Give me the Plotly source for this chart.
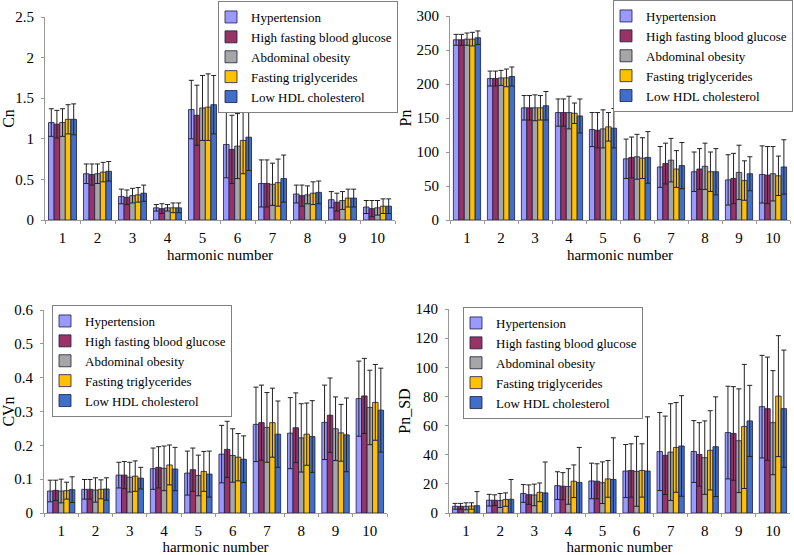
import plotly.graph_objects as go

harmonics = [str(i) for i in range(1, 11)]
groups = ["Hypertension", "High fasting blood glucose", "Abdominal obesity",
          "Fasting triglycerides", "Low HDL cholesterol"]
colors = ["#9999FF", "#993366", "#A6A6A6", "#FFC000", "#3F6FC8"]

# Cn (mean, sd) per group
cn_mean = [
    [1.20, 0.57, 0.29, 0.15, 1.36, 0.93, 0.45, 0.32, 0.25, 0.16],
    [1.18, 0.56, 0.28, 0.14, 1.29, 0.87, 0.45, 0.30, 0.22, 0.14],
    [1.20, 0.57, 0.30, 0.15, 1.38, 0.91, 0.44, 0.31, 0.24, 0.15],
    [1.24, 0.59, 0.31, 0.15, 1.39, 0.98, 0.46, 0.33, 0.27, 0.17],
    [1.24, 0.60, 0.33, 0.15, 1.42, 1.02, 0.51, 0.34, 0.27, 0.17],
]
cn_sd = [
    [0.17, 0.12, 0.09, 0.04, 0.36, 0.41, 0.29, 0.11, 0.10, 0.08],
    [0.17, 0.13, 0.09, 0.06, 0.37, 0.42, 0.29, 0.13, 0.11, 0.10],
    [0.17, 0.12, 0.09, 0.04, 0.40, 0.40, 0.26, 0.11, 0.11, 0.09],
    [0.18, 0.12, 0.09, 0.06, 0.41, 0.41, 0.29, 0.14, 0.11, 0.09],
    [0.19, 0.12, 0.10, 0.06, 0.36, 0.41, 0.29, 0.14, 0.11, 0.09],
]

# Pn
pn_mean = [
    [265, 208, 165, 158, 133, 90, 78, 71, 59, 67],
    [265, 208, 165, 158, 132, 92, 83, 75, 61, 66],
    [266, 209, 165, 158, 134, 93, 88, 79, 70, 68],
    [266, 209, 165, 157, 137, 91, 75, 71, 58, 65],
    [268, 211, 168, 153, 135, 92, 80, 71, 68, 78],
]
pn_sd = [
    [8, 11, 18, 20, 25, 29, 30, 29, 37, 42],
    [8, 11, 18, 20, 26, 30, 30, 30, 37, 42],
    [9, 11, 19, 24, 28, 33, 32, 34, 40, 40],
    [10, 13, 18, 15, 21, 30, 27, 29, 29, 29],
    [10, 14, 21, 25, 29, 38, 34, 34, 25, 40],
]

# CVn
cvn_mean = [
    [0.065, 0.070, 0.112, 0.131, 0.118, 0.174, 0.262, 0.236, 0.268, 0.338],
    [0.067, 0.070, 0.112, 0.135, 0.128, 0.188, 0.267, 0.252, 0.289, 0.346],
    [0.065, 0.068, 0.106, 0.132, 0.111, 0.170, 0.253, 0.222, 0.249, 0.312],
    [0.066, 0.070, 0.109, 0.142, 0.123, 0.165, 0.267, 0.233, 0.237, 0.327],
    [0.069, 0.071, 0.103, 0.130, 0.115, 0.159, 0.233, 0.226, 0.231, 0.304],
]
cvn_sd = [
    [0.032, 0.029, 0.038, 0.061, 0.065, 0.085, 0.110, 0.105, 0.110, 0.111],
    [0.030, 0.029, 0.040, 0.061, 0.064, 0.083, 0.111, 0.103, 0.110, 0.111],
    [0.035, 0.036, 0.044, 0.066, 0.060, 0.079, 0.103, 0.101, 0.094, 0.110],
    [0.025, 0.028, 0.045, 0.059, 0.059, 0.070, 0.102, 0.092, 0.084, 0.112],
    [0.038, 0.033, 0.032, 0.064, 0.068, 0.069, 0.098, 0.106, 0.109, 0.124],
]

# Pn_SD
pnsd_mean = [
    [4.6, 8.8, 13.4, 18.8, 22.0, 28.8, 42.2, 42.2, 55.2, 73.0],
    [4.6, 8.8, 12.6, 18.4, 21.8, 29.2, 39.6, 40.2, 54.6, 71.6],
    [4.6, 8.6, 12.4, 18.2, 20.8, 28.6, 41.8, 38.0, 49.6, 62.0],
    [4.8, 9.2, 14.2, 21.8, 23.4, 29.2, 45.0, 43.0, 59.4, 80.2],
    [5.0, 9.4, 13.8, 21.0, 23.0, 28.8, 46.0, 45.5, 63.2, 71.6],
]
pnsd_sd = [
    [2.0, 4.0, 6.1, 9.5, 12.2, 18.2, 26.8, 21.2, 31.8, 35.2],
    [2.0, 3.7, 6.7, 9.3, 12.0, 18.3, 26.9, 21.8, 32.1, 35.4],
    [2.4, 4.8, 7.4, 12.2, 14.3, 24.0, 33.2, 25.2, 35.6, 35.7],
    [2.2, 4.6, 6.4, 11.2, 12.6, 18.3, 30.8, 27.2, 42.6, 41.5],
    [9.7, 13.6, 21.2, 24.0, 28.6, 37.2, 34.5, 34.2, 24.4, 40.2],
]

W, H = 794, 555
panels = [
    dict(mean=cn_mean, sd=cn_sd, ytitle="Cn", yrange=[0, 2.5], dtick=0.5,
         xdom=[45 / W, 395 / W], ydom=[1 - 220 / H, 1 - 17 / H],
         leg=(218 / W, 1 - 1 / H, "left")),
    dict(mean=pn_mean, sd=pn_sd, ytitle="Pn", yrange=[0, 300], dtick=50,
         xdom=[450 / W, 790 / W], ydom=[1 - 220 / H, 1 - 16 / H],
         leg=(793 / W, 1.0, "right")),
    dict(mean=cvn_mean, sd=cvn_sd, ytitle="CVn", yrange=[0, 0.6], dtick=0.1,
         xdom=[44 / W, 387 / W], ydom=[1 - 513 / H, 1 - 310 / H],
         leg=(52 / W, 1 - 305 / H, "left")),
    dict(mean=pnsd_mean, sd=pnsd_sd, ytitle="Pn_SD", yrange=[0, 140], dtick=20,
         xdom=[449 / W, 790 / W], ydom=[1 - 513 / H, 1 - 309 / H],
         leg=(463 / W, 1 - 307 / H, "left")),
]

FONT = '"Liberation Serif", "Times New Roman", "DejaVu Serif", serif'
fig = go.Figure()
layout = dict(
    width=W, height=H,
    margin=dict(l=0, r=0, t=0, b=0, autoexpand=False),
    paper_bgcolor="white", plot_bgcolor="white",
    barmode="group", bargap=0.2, bargroupgap=0,
    font=dict(family=FONT, size=15, color="black"),
)

for p_i, p in enumerate(panels):
    n = p_i + 1
    xa = "x" if n == 1 else f"x{n}"
    ya = "y" if n == 1 else f"y{n}"
    lg = "legend" if n == 1 else f"legend{n}"
    for g_i, g in enumerate(groups):
        fig.add_trace(go.Bar(
            x=harmonics, y=p["mean"][g_i], name=g,
            marker=dict(color=colors[g_i], line=dict(color="#1c1c40", width=0.8)),
            error_y=dict(type="data", array=p["sd"][g_i], visible=True,
                         color="#222222", thickness=1, width=2.5),
            xaxis=xa, yaxis=ya, legend=lg, showlegend=True,
        ))
    xkey = "xaxis" if n == 1 else f"xaxis{n}"
    ykey = "yaxis" if n == 1 else f"yaxis{n}"
    layout[xkey] = dict(
        domain=p["xdom"], anchor=ya, type="category",
        showline=True, linecolor="#999999", linewidth=1,
        ticks="outside", tickson="boundaries", ticklen=3, tickcolor="#999999",
        tickfont=dict(family=FONT, size=15), ticklabelstandoff=4,
        title=dict(text="harmonic number", font=dict(family=FONT, size=15), standoff=4),
        showgrid=False, zeroline=False,
    )
    layout[ykey] = dict(
        domain=p["ydom"], anchor=xa, range=p["yrange"], dtick=p["dtick"],
        showline=True, linecolor="#999999", linewidth=1,
        ticks="outside", ticklen=3, tickcolor="#999999",
        tickfont=dict(family=FONT, size=15), ticklabelstandoff=4,
        title=dict(text=p["ytitle"], font=dict(family=FONT, size=16), standoff=0),
        showgrid=False, zeroline=False,
    )
    layout[lg] = dict(
        x=p["leg"][0], y=p["leg"][1], xanchor=p["leg"][2], yanchor="top",
        bgcolor="white", bordercolor="#808080", borderwidth=1,
        font=dict(family=FONT, size=13), itemwidth=30, indentation=-8,
        tracegroupgap=0, traceorder="normal",
    )

fig.update_layout(**layout)
fig.write_html(
    "out.html",
    config={"displayModeBar": False},
    post_script="document.body.style.margin='0';document.body.style.overflow='hidden';",
)
